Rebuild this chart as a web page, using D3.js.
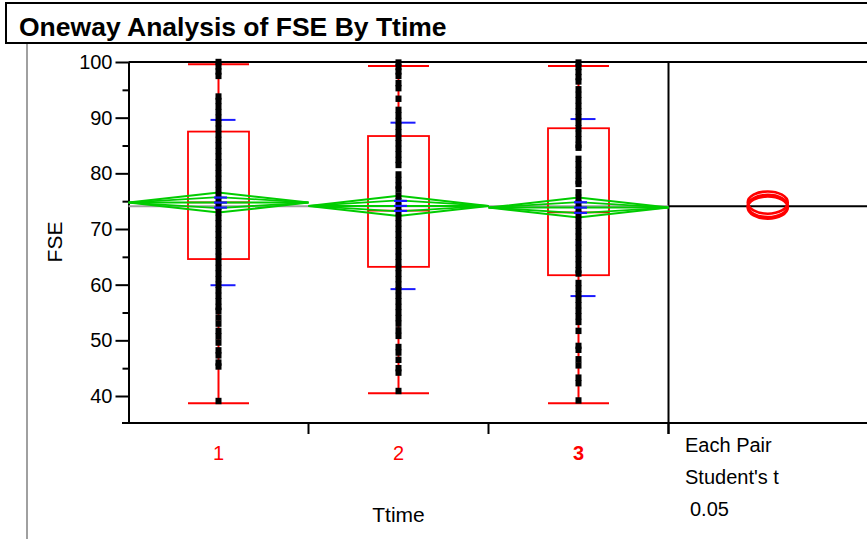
<!DOCTYPE html>
<html>
<head>
<meta charset="utf-8">
<script src="https://cdn.jsdelivr.net/npm/d3@7"></script>
<style>
  html, body { margin: 0; padding: 0; background: #fff; }
  svg { display: block; font-family: "Liberation Sans", Arial, sans-serif; }
</style>
</head>
<body>
<svg id="chart" width="867" height="539"></svg>
<script>
// ---------------- data ----------------
const categories = ["1", "2", "3"];
const means      = [74.75, 74.15, 73.85];
const ciHalf     = [1.8, 1.8, 1.8];
const stdDevs    = [14.85, 14.95, 15.9];
const stdErrs    = [0.9, 0.9, 0.95];
const mins       = [38.7, 40.5, 38.7];
const q1s        = [64.6, 63.2, 61.7];
const medians    = [74.8, 73.3, 73.0];
const q3s        = [87.5, 86.7, 88.1];
const maxs       = [99.6, 99.3, 99.3];
const grandMean  = 74.1;
const compRadius = [2.0, 2.0, 2.0];

const points1 = [100.0, 99.2, 98.3, 97.5, 93.8,
  93.0, 92.0, 91.0, 90.0, 89.0, 88.0, 87.0, 86.0, 85.0, 84.0, 83.0, 82.0, 81.0, 80.0,
  79.0, 78.0, 77.0, 76.0, 75.0, 74.0, 73.0, 72.0, 71.0, 70.0, 69.0, 68.0, 67.0, 66.0,
  65.0, 64.0, 63.0, 62.0, 61.0, 60.0, 59.0, 58.0, 57.0, 56.0, 55.3,
  54.1, 53.0, 51.7, 50.7, 49.6, 48.2, 47.3, 46.0, 45.3, 39.1];
const points2 = [99.9, 99.1, 98.3, 97.5, 96.2, 95.3, 93.4,
  91.4, 90.4, 89.4, 88.4, 87.4, 86.4, 85.4, 84.4, 83.4, 82.4, 81.5,
  79.8, 78.8, 77.8, 77.1,
  76.0, 75.0, 74.0, 73.0, 72.0, 71.0, 70.0, 69.0, 68.0, 67.0, 66.0, 65.0, 64.0, 63.0,
  62.0, 61.0, 60.0, 59.0, 58.0, 57.0, 56.0, 55.0, 54.0, 53.0,
  51.8, 50.8, 48.8, 47.8, 46.5, 45.0, 44.2, 40.9];
const points3 = [99.9, 99.1, 98.2, 97.3, 96.5,
  95.1, 94.1, 93.1, 92.1, 91.1, 90.1, 89.1, 88.1, 87.1, 86.1, 85.1, 84.6,
  82.6, 81.6, 80.6, 79.6, 78.6, 78.1,
  76.6, 75.6, 74.6, 73.6, 72.6, 71.6, 70.6, 69.6, 68.6, 67.6, 66.6, 65.6, 64.6, 63.6, 62.6, 62.0,
  60.3, 59.3, 58.3, 57.3, 56.3, 55.3, 54.3, 53.3,
  51.7, 49.0, 48.3, 46.6, 45.5, 43.3, 42.3, 39.2];
const groupPoints = [points1, points2, points3];

const yMajorTicks = [40, 50, 60, 70, 80, 90, 100];
const yMinorTicks = [45, 55, 65, 75, 85, 95];
const titleText = "Oneway Analysis of FSE By Ttime";
const xTitle = "Ttime";
const yTitle = "FSE";
const testLines = ["Each Pair", "Student's t", "0.05"];

// ---------------- layout ----------------
const W = 867, H = 539;
const plotLeft = 128.5, plotRight = 668.5, plotTop = 62, plotBottom = 423;
const panelRight = 867;
const RED = "#ff0000", GREEN = "#00cc00", BLUE = "#1a1aff", GRAY = "#a0a0a0";

const svg = d3.select("#chart");

const x = d3.scaleBand().domain(categories).range([plotLeft, plotRight]).padding(0);
const y = d3.scaleLinear().domain([35.15, 100]).range([plotBottom, plotTop]);
const cx = c => x(c) + x.bandwidth() / 2;

// Title box
svg.append("rect").attr("x", 6).attr("y", 3).attr("width", 900).attr("height", 40)
  .attr("fill", "#fff").attr("stroke", "#000").attr("stroke-width", 2);
svg.append("text").attr("x", 19).attr("y", 36)
  .attr("font-size", 26.5).attr("font-weight", "bold").attr("fill", "#000")
  .text(titleText);

// Outline gray line at left
svg.append("line").attr("x1", 27).attr("x2", 27).attr("y1", 44).attr("y2", H)
  .attr("stroke", GRAY).attr("stroke-width", 2);

// Frame lines
svg.append("line").attr("x1", plotLeft).attr("x2", panelRight).attr("y1", plotTop).attr("y2", plotTop)
  .attr("stroke", "#000").attr("stroke-width", 2);
svg.append("line").attr("x1", plotLeft - 6.5).attr("x2", panelRight).attr("y1", plotBottom).attr("y2", plotBottom)
  .attr("stroke", "#000").attr("stroke-width", 2);
svg.append("line").attr("x1", plotRight).attr("x2", plotRight).attr("y1", plotTop).attr("y2", plotBottom + 11)
  .attr("stroke", "#000").attr("stroke-width", 2);

// Y axis
const yAxisMinor = d3.axisLeft(y).tickValues(yMinorTicks).tickSize(6).tickSizeOuter(0).tickFormat("");
const yAxisMajor = d3.axisLeft(y).tickValues(yMajorTicks).tickSize(13).tickSizeOuter(0).tickPadding(3);
const gyMinor = svg.append("g").attr("transform", `translate(${plotLeft},0)`).call(yAxisMinor);
const gy = svg.append("g").attr("transform", `translate(${plotLeft},0)`).call(yAxisMajor);
[gy, gyMinor].forEach(g => {
  g.selectAll("line").attr("stroke", "#000").attr("stroke-width", 2);
  g.select(".domain").attr("stroke", "#000").attr("stroke-width", 2);
});
gy.selectAll("text").attr("font-size", 20).attr("fill", "#000")
  .attr("font-family", "'Liberation Sans', Arial, sans-serif");

// X axis: labels at centres, tick marks at band boundaries
const xAxis = d3.axisBottom(x).tickSize(0).tickPadding(23);
const gx = svg.append("g").attr("transform", `translate(0,${plotBottom})`).call(xAxis);
gx.select(".domain").remove();
gx.selectAll("text").attr("font-size", 20).attr("fill", RED)
  .attr("font-family", "'Liberation Sans', Arial, sans-serif")
  .attr("font-weight", d => d === "3" ? "bold" : "normal");
svg.append("g").selectAll("line").data(categories).join("line")
  .attr("x1", c => x(c) + x.bandwidth()).attr("x2", c => x(c) + x.bandwidth())
  .attr("y1", plotBottom).attr("y2", plotBottom + 11)
  .attr("stroke", "#000").attr("stroke-width", 2);

// Axis titles
svg.append("text").attr("x", (plotLeft + plotRight) / 2).attr("y", 522)
  .attr("text-anchor", "middle").attr("font-size", 21).attr("fill", "#000").text(xTitle);
svg.append("text").attr("transform", `translate(62,${242}) rotate(-90)`)
  .attr("text-anchor", "middle").attr("font-size", 21).attr("fill", "#000").text(yTitle);

// Grand mean (gray in plot, black in comparison panel)
svg.append("line").attr("x1", plotLeft).attr("x2", plotRight)
  .attr("y1", y(grandMean)).attr("y2", y(grandMean))
  .attr("stroke", GRAY).attr("stroke-width", 2);
svg.append("line").attr("x1", plotRight).attr("x2", panelRight)
  .attr("y1", y(grandMean)).attr("y2", y(grandMean))
  .attr("stroke", "#000").attr("stroke-width", 2);

const boxHalf = 30.5;
const groups = svg.append("g");
categories.forEach((c, i) => {
  const g = groups.append("g");
  const xc = cx(c);
  // whiskers
  g.append("line").attr("x1", xc).attr("x2", xc).attr("y1", y(q3s[i])).attr("y2", y(maxs[i]))
    .attr("stroke", RED).attr("stroke-width", 2);
  g.append("line").attr("x1", xc).attr("x2", xc).attr("y1", y(q1s[i])).attr("y2", y(mins[i]))
    .attr("stroke", RED).attr("stroke-width", 2);
  [mins[i], maxs[i]].forEach(v => {
    g.append("line").attr("x1", xc - boxHalf).attr("x2", xc + boxHalf).attr("y1", y(v)).attr("y2", y(v))
      .attr("stroke", RED).attr("stroke-width", 2);
  });
  // box
  g.append("rect").attr("x", xc - boxHalf).attr("y", y(q3s[i]))
    .attr("width", boxHalf * 2).attr("height", y(q1s[i]) - y(q3s[i]))
    .attr("fill", "none").attr("stroke", RED).attr("stroke-width", 1.8);
  g.append("line").attr("x1", xc - boxHalf).attr("x2", xc + boxHalf)
    .attr("y1", y(medians[i])).attr("y2", y(medians[i]))
    .attr("stroke", RED).attr("stroke-width", 1.8);
  // means diamonds
  const x0 = x(c), x1 = x(c) + x.bandwidth();
  const dia = (h) => `M${x0},${y(means[i])}L${xc},${y(means[i] + h)}L${x1},${y(means[i])}L${xc},${y(means[i] - h)}Z`;
  g.append("path").attr("d", dia(ciHalf[i])).attr("fill", "none").attr("stroke", GREEN).attr("stroke-width", 2);
  g.append("path").attr("d", dia(ciHalf[i] * 0.55)).attr("fill", "none").attr("stroke", GREEN).attr("stroke-width", 1.8);
  g.append("line").attr("x1", x0).attr("x2", x1).attr("y1", y(means[i])).attr("y2", y(means[i]))
    .attr("stroke", GREEN).attr("stroke-width", 2);
  // std dev lines
  [means[i] + stdDevs[i], means[i] - stdDevs[i]].forEach(v => {
    g.append("line").attr("x1", xc - 8).attr("x2", xc + 17).attr("y1", y(v)).attr("y2", y(v))
      .attr("stroke", BLUE).attr("stroke-width", 2);
  });
  // points
  g.append("g").selectAll("rect").data(groupPoints[i]).join("rect")
    .attr("x", xc - 3).attr("y", d => y(d) - 3.2).attr("width", 6).attr("height", 6.4)
    .attr("fill", "#000");
  // mean error bars
  [means[i] + stdErrs[i], means[i], means[i] - stdErrs[i]].forEach(v => {
    g.append("line").attr("x1", xc - 4.5).attr("x2", xc + 8.5).attr("y1", y(v)).attr("y2", y(v))
      .attr("stroke", BLUE).attr("stroke-width", 2.2);
  });
});

// Comparison circles
const circX = (plotRight + panelRight) / 2;
svg.append("g").selectAll("ellipse").data(categories).join("ellipse")
  .attr("cx", circX).attr("cy", (c, i) => y(means[i]))
  .attr("rx", 20).attr("ry", (c, i) => y(means[i] - compRadius[i]) - y(means[i]))
  .attr("fill", "none").attr("stroke", RED).attr("stroke-width", 2.6);

// Test description
svg.append("g").selectAll("text").data(testLines).join("text")
  .attr("x", (d, i) => i === 2 ? 690 : 685).attr("y", (d, i) => 452 + i * 32)
  .attr("font-size", 20).attr("fill", "#000").text(d => d);
</script>
</body>
</html>
